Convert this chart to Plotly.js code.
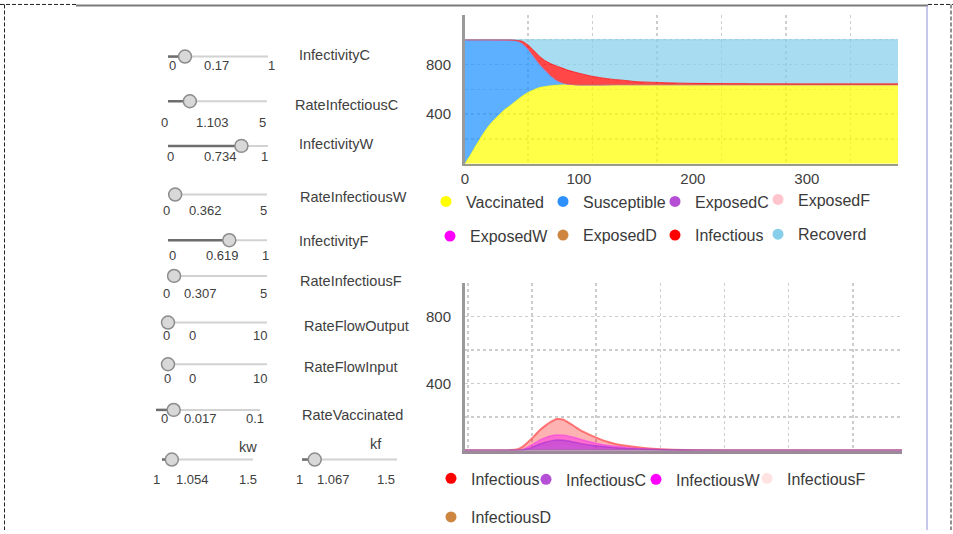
<!DOCTYPE html>
<html><head><meta charset="utf-8">
<script src="https://cdn.plot.ly/plotly-3.0.1.min.js"></script>
<style>html,body{margin:0;padding:0;background:#fff;}#chart{width:953px;height:534px;}</style>
</head><body><div id="chart"></div>
<script>
// ---------- top chart: compartments (stacked), days ----------
const days = [0,5,10,15,20,25,30,35,40,45,50,55,60,65,70,75,80,85,90,95,100,110,120,130,140,150,160,180,200,250,300,380];
const vaccinated  = [0,74,153,228,295,349,394,438,471,508,544,573,595,613,622,629,633,635,636,636,637,637,637,638,638,638,638,638,638,638,638,638];
const susceptible = [1000,926,847,772,705,650,605,560,526,483,426,352,270,190,132,80,41,18,6,2,0,0,0,0,0,0,0,0,0,0,0,0];
const exposedC    = [0,0,0,0,0,0,0,0,0,1,2,2,3,3,2,2,1,1,1,0,0,0,0,0,0,0,0,0,0,0,0,0];
const exposedF    = [0,0,0,0,0,0,0,0,0,0,1,2,2,2,2,1,1,1,0,0,0,0,0,0,0,0,0,0,0,0,0,0];
const exposedW    = [0,0,0,0,0,0,0,0,0,1,2,3,3,3,3,2,2,1,1,1,0,0,0,0,0,0,0,0,0,0,0,0];
const exposedD    = [0,0,0,0,0,0,0,0,0,0,0,0,0,0,0,0,0,0,0,0,0,0,0,0,0,0,0,0,0,0,0,0];
const infectious  = [0,0,0,0,0,1,1,2,2,3,13,28,44,58,72,94,111,117,111,103,93,71,55,42,34,24,20,14,10,7,6,6];
const recovered   = [0,0,0,0,0,0,0,0,1,4,12,40,83,131,167,192,211,227,245,258,270,292,308,320,328,338,342,348,352,355,356,356];

// ---------- bottom chart: infectious by class ----------
const bDays = [0,10,20,30,40,45,50,55,60,65,70,75,80,85,90,95,100,110,120,130,140,150,160,180,200,250,300,380];
const infTotal = [0,0,0,1,3,7,22,52,85,121,149,172,188,185,167,145,122,89,61,41,29,20,13,5,2,0,0,0];
const infC     = [0,0,0,0,0,1,4,11,24,39,50,58,63,62,57,50,43,32,24,17,12,9,6,3,1,0,0,0];
const infW     = [0,0,0,0,1,3,7,22,41,62,77,88,93,91,86,78,68,50,35,26,19,13,9,5,2,0,0,0];
const infF     = [0,0,0,0,1,2,6,14,20,22,24,27,31,31,26,19,12,8,4,2,1,0,0,0,0,0,0,0];
const infD     = [0,0,0,0,0,0,0,0,0,0,0,0,0,0,0,0,0,0,0,0,0,0,0,0,0,0,0,0];

// ---------- axis tick labels ----------
const xTicks = [0,100,200,300];
const yTicks = [400,800];

// ---------- sliders ----------
const sliderNames = ['InfectivityC','RateInfectiousC','InfectivityW','RateInfectiousW','InfectivityF','RateInfectiousF','RateFlowOutput','RateFlowInput','RateVaccinated','kw','kf'];
const sliderMin   = [0,0,0,0,0,0,0,0,0,1,1];
const sliderMax   = [1,5,1,5,1,5,10,10,0.1,1.5,1.5];
const sliderValue = [0.17,1.103,0.734,0.362,0.619,0.307,0,0,0.017,1.054,1.067];

// slider geometry (pixels) - layout only
const sliderRows = [
 {x0:168,x1:268,y:57, minX:172,valX:216,maxX:271,labY:66, nX:297,nY:55, nA:'left'},
 {x0:168,x1:267,y:102,minX:164,valX:212,maxX:262,labY:123,nX:293,nY:106,nA:'left'},
 {x0:168,x1:268,y:147,minX:170,valX:220,maxX:264,labY:158,nX:297,nY:145,nA:'left'},
 {x0:168,x1:267,y:196,minX:166,valX:205,maxX:263,labY:212,nX:298,nY:198,nA:'left'},
 {x0:168,x1:267,y:242,minX:172,valX:222,maxX:265,labY:257,nX:297,nY:243,nA:'left'},
 {x0:168,x1:267,y:278,minX:166,valX:200,maxX:263,labY:296,nX:298,nY:283,nA:'left'},
 {x0:168,x1:267,y:325,minX:166,valX:192,maxX:260,labY:338,nX:302,nY:328,nA:'left'},
 {x0:168,x1:267,y:367,minX:167,valX:192,maxX:260,labY:381,nX:302,nY:370,nA:'left'},
 {x0:156,x1:260,y:413,minX:164,valX:200,maxX:255,labY:422,nX:300,nY:418,nA:'left'},
 {x0:162,x1:253,y:463,minX:156,valX:192,maxX:248,labY:483,nX:248,nY:450,nA:'center'},
 {x0:302,x1:397,y:463,minX:299,valX:333,maxX:386,labY:483,nX:376,nY:447,nA:'center'}
];

const W = 953, H = 534;
const FONT = 'Liberation Sans, Arial, sans-serif';
const TXT = '#404040';
const px = x => x / W, py = y => 1 - y / H;

const shapes = [], annotations = [];
sliderRows.forEach((r, i) => {
  const frac = (sliderValue[i] - sliderMin[i]) / (sliderMax[i] - sliderMin[i]);
  const kx = r.x0 + frac * (r.x1 - r.x0);
  shapes.push({type:'line',xref:'paper',yref:'paper',x0:px(r.x0),x1:px(r.x1),y0:py(r.y),y1:py(r.y),line:{color:'#d2d2d2',width:2}});
  shapes.push({type:'line',xref:'paper',yref:'paper',x0:px(r.x0),x1:px(kx),y0:py(r.y),y1:py(r.y),line:{color:'#6e6e6e',width:2.5}});
  shapes.push({type:'circle',xref:'paper',yref:'paper',x0:px(kx-6.5),x1:px(kx+6.5),y0:py(r.y+6.5),y1:py(r.y-6.5),fillcolor:'#d8d8d8',line:{color:'#8c8c8c',width:1.5}});
  const lab = (t, x) => annotations.push({xref:'paper',yref:'paper',x:px(x),y:py(r.labY),text:t,showarrow:false,xanchor:'center',yanchor:'middle',font:{family:FONT,size:13,color:TXT}});
  lab(String(sliderMin[i]), r.minX);
  lab(String(sliderValue[i]), r.valX);
  lab(String(sliderMax[i]), r.maxX);
  annotations.push({xref:'paper',yref:'paper',x:px(r.nX),y:py(r.nY),text:sliderNames[i],showarrow:false,xanchor:r.nA,yanchor:'middle',font:{family:FONT,size:14.5,color:TXT}});
});

// frame
const dashL = {color:'#222',width:1,dash:'4px,2px'};
shapes.push({type:'line',xref:'paper',yref:'paper',x0:0,x1:px(76),y0:py(4.5),y1:py(4.5),line:dashL});
shapes.push({type:'line',xref:'paper',yref:'paper',x0:px(928),x1:1,y0:py(4.5),y1:py(4.5),line:dashL});
shapes.push({type:'line',xref:'paper',yref:'paper',x0:px(76),x1:px(928),y0:py(5.5),y1:py(5.5),line:{color:'#7a7a7a',width:2}});
shapes.push({type:'line',xref:'paper',yref:'paper',x0:px(4.5),x1:px(4.5),y0:py(4.5),y1:0,line:dashL});
shapes.push({type:'line',xref:'paper',yref:'paper',x0:px(951),x1:px(951),y0:py(4.5),y1:0,line:dashL});
shapes.push({type:'line',xref:'paper',yref:'paper',x0:px(927),x1:px(927),y0:py(6),y1:0,line:{color:'#b4b4e6',width:1.5}});

// ---------- traces ----------
const topSeries = [
  ['Vaccinated', vaccinated, '255,255,0'],
  ['Susceptible', susceptible, '30,144,255'],
  ['ExposedC', exposedC, '186,85,211'],
  ['ExposedF', exposedF, '255,192,203'],
  ['ExposedW', exposedW, '255,0,255'],
  ['ExposedD', exposedD, '205,133,63'],
  ['Infectious', infectious, '255,0,0'],
  ['Recoverd', recovered, '135,206,235']
];
const traces = [];
topSeries.forEach(s => {
  traces.push({x:days, y:s[1], name:s[0], type:'scatter', mode:'lines', stackgroup:'top', xaxis:'x', yaxis:'y',
    line:{color:'rgba('+s[2]+',0.75)', width:1, shape:'spline', smoothing:0.5}, fillcolor:'rgba('+s[2]+',0.72)', showlegend:false, hoverinfo:'skip'});
});
const botSeries = [
  ['Infectious', infTotal, '255,0,0', 0.30, 'rgba(255,95,95,0.85)', 2],
  ['InfectiousF', infF, '255,215,215', 0.3, 'rgba(255,200,200,0.6)', 1],
  ['InfectiousW', infW, '255,0,255', 0.38, 'rgba(240,60,230,0.6)', 1.5],
  ['InfectiousC', infC, '170,60,215', 0.55, 'rgba(170,50,210,0.65)', 1.5],
  ['InfectiousD', infD, '205,133,63', 0.5, 'rgba(140,110,140,0.9)', 2]
];
botSeries.forEach(s => {
  traces.push({x:bDays, y:s[1], name:s[0], type:'scatter', mode:'lines', fill:'tozeroy', xaxis:'x2', yaxis:'y2',
    line:{color:s[4], width:s[5], shape:'spline', smoothing:0.5}, fillcolor:'rgba('+s[2]+','+s[3]+')', showlegend:false, hoverinfo:'skip'});
});

// legend entries: one legend per entry so each sits where the reference puts it
// [name, colour, axes, textLeftPx, rowCenterPx]
const legendDefs = [
  ['Vaccinated','#ffff00','x','y',466,203],['Susceptible','#2e90ff','x','y',583,203],['ExposedC','#b44fd6','x','y',695,203],['ExposedF','#ffc4cc','x','y',798,201],
  ['ExposedW','#ff00ff','x','y',470,238],['ExposedD','#cd853f','x','y',583,237],['Infectious','#ff0000','x','y',695,237],['Recoverd','#87ceeb','x','y',798,236],
  ['Infectious','#ff0000','x2','y2',471,482],['InfectiousC','#b44fd6','x2','y2',566,483],['InfectiousW','#ff00ff','x2','y2',676,483],['InfectiousF','#ffe2e2','x2','y2',787,482],
  ['InfectiousD','#cd853f','x2','y2',471,521]
];
const layoutLegends = {};
legendDefs.forEach((d, i) => {
  const id = i === 0 ? 'legend' : 'legend' + (i + 1);
  traces.push({x:[null], y:[null], type:'scatter', mode:'markers', name:d[0], legend:id, xaxis:d[2], yaxis:d[3],
    marker:{color:d[1], size:11, symbol:'circle'}, showlegend:true, hoverinfo:'skip'});
  layoutLegends[id] = {orientation:'h', x:px(d[4] - 40), y:py(d[5]), xanchor:'left', yanchor:'middle', traceorder:'normal',
    bgcolor:'rgba(0,0,0,0)', borderwidth:0, font:{family:FONT, size:16, color:'#3a3a3a'}, itemclick:false, itemdoubleclick:false};
});

const gridC = '#cdcdcd';
const layout = Object.assign({
  width:W, height:H, autosize:false, margin:{l:0,r:0,t:0,b:0,pad:0},
  paper_bgcolor:'#ffffff', plot_bgcolor:'#ffffff', showlegend:true,
  font:{family:FONT, color:TXT},
  xaxis:{domain:[px(465), px(898)], anchor:'y', range:[0,380], tickvals:xTicks, showgrid:false, zeroline:false,
    showline:true, linecolor:'#9a9a8a', linewidth:2, ticks:'', tickfont:{family:FONT,size:15,color:TXT},
    minor:{tick0:55.3, dtick:56.6, showgrid:true, griddash:'dot', gridcolor:gridC, gridwidth:1.5, ticks:''}},
  yaxis:{domain:[py(165), py(15)], anchor:'x', range:[0,1200], tickvals:yTicks, showgrid:true, griddash:'dot', gridcolor:gridC, gridwidth:1.5,
    zeroline:false, showline:true, linecolor:'#9a9a9a', linewidth:3, ticks:'', ticklabelstandoff:8, tickfont:{family:FONT,size:15,color:TXT},
    minor:{tick0:0, dtick:200, showgrid:true, griddash:'dot', gridcolor:gridC, gridwidth:1.5, ticks:''}},
  xaxis2:{domain:[px(465), px(902)], anchor:'y2', range:[0,380], showticklabels:false, showgrid:false, zeroline:false,
    showline:true, linecolor:'#9a8a9a', linewidth:3, ticks:'',
    minor:{tick0:58.3, dtick:55.8, showgrid:true, griddash:'dot', gridcolor:gridC, gridwidth:1.5, ticks:''}},
  yaxis2:{domain:[py(454), py(285)], anchor:'x2', range:[0,1000], tickvals:yTicks, showgrid:true, griddash:'dot', gridcolor:gridC, gridwidth:1.5,
    zeroline:false, showline:true, linecolor:'#9a9a9a', linewidth:3, ticks:'', ticklabelstandoff:8, tickfont:{family:FONT,size:15,color:TXT},
    minor:{tick0:0, dtick:200, showgrid:true, griddash:'dot', gridcolor:gridC, gridwidth:1.5, ticks:''}},
  shapes:shapes, annotations:annotations
}, layoutLegends);

Plotly.newPlot('chart', traces, layout, {displayModeBar:false, staticPlot:true});
</script></body></html>
